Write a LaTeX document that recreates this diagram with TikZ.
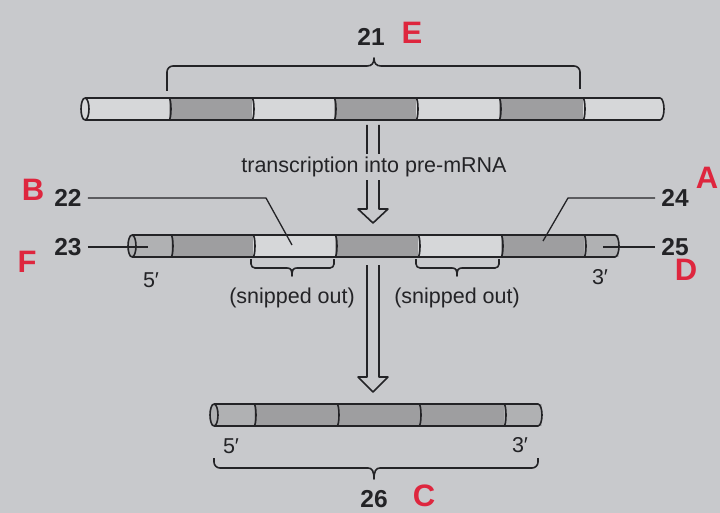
\documentclass[tikz,border=0pt]{standalone}
\usepackage{fontspec}
\setmainfont{Liberation Sans}
\definecolor{paper}{RGB}{200,201,204}
\definecolor{inkc}{RGB}{35,35,38}
\definecolor{intron}{RGB}{214,215,217}
\definecolor{exon}{RGB}{158,158,160}
\definecolor{utr}{RGB}{176,177,179}
\definecolor{penred}{RGB}{222,38,62}
% #1 left x, #2 right x, #3 centre y, #4 base colour
\newcommand\tubebody[4]{%
  \fill[#4] (#1+4,#3-11) -- (#2-4,#3-11)
    arc[start angle=-90,end angle=90,x radius=4,y radius=11] -- (#1+4,#3+11) -- cycle;}
% #1 left x, #2 right x, #3 centre y, #4 cap colour
\newcommand\tubeoutline[4]{%
  \draw[ink] (#1+4,#3-11) -- (#2-4,#3-11)
    arc[start angle=-90,end angle=90,x radius=4,y radius=11] -- (#1+4,#3+11);
  \draw[ink,fill=#4] (#1+4,#3) ellipse[x radius=4,y radius=11];}
% #1 x, #2 centre y
\newcommand\divider[2]{%
  \draw[ink] (#1,#2-11) arc[start angle=-90,end angle=90,x radius=2,y radius=11];}
% #1 x1, #2 x2, #3 centre y, #4 colour
\newcommand\segment[4]{\fill[#4] (#1,#3-11) rectangle (#2,#3+11);}
\begin{document}
\begin{tikzpicture}[x=1pt,y=-1pt,
  ink/.style={draw=inkc,line width=1.6pt,line join=round},
  lbl/.style={text=inkc,inner sep=1pt,font=\fontsize{21.5}{25}\selectfont},
  num/.style={text=inkc,inner sep=1pt,font=\fontsize{24.5}{28}\selectfont\bfseries},
  redletter/.style={text=penred,inner sep=1pt,font=\fontsize{31}{33}\selectfont\bfseries},
  leader/.style={ink,line width=1.3pt,shorten <=5pt},
  bigarrow/.style={ink,fill=paper}]
\fill[paper] (0,0) rectangle (720,513);
\useasboundingbox (0,0) rectangle (720,513);

% ---- gene (DNA) ----
\tubebody{81}{664}{109}{intron}
\segment{169}{252}{109}{exon}
\segment{334}{416}{109}{exon}
\segment{499}{583}{109}{exon}
\tubeoutline{81}{664}{109}{intron}
\foreach \x in {169,252,334,416,499,583} {\divider{\x}{109}}

% brace over the coding region
\draw[ink,rounded corners=6] (167,91) -- (167,66) -- (367,66);
\draw[ink] (367,66) .. controls (372,66) and (374,63) .. (374,58)
           .. controls (374,63) and (376,66) .. (381,66);
\draw[ink,rounded corners=6] (381,66) -- (580,66) -- (580,89);
\node[num] (n21) at (371,37) {21};
\node[redletter] (lE) at (412,33) {E};

% ---- transcription arrow ----
\draw[bigarrow] (367,125) -- (367,209) -- (358,209) -- (373,223)
                -- (388,209) -- (379,209) -- (379,125);
\node[lbl,fill=paper,inner ysep=3pt] (tr) at (374,167) {transcription into pre-mRNA};

% ---- pre-mRNA ----
\tubebody{128}{619}{246}{intron}
\segment{132}{171}{246}{utr}
\segment{171}{253}{246}{exon}
\segment{335}{418}{246}{exon}
\segment{501}{584}{246}{exon}
\segment{584}{619}{246}{utr}
\fill[utr] (615,235) arc[start angle=-90,end angle=90,x radius=4,y radius=11] -- cycle;
\tubeoutline{128}{619}{246}{utr}
\foreach \x in {171,253,335,418,501,584} {\divider{\x}{246}}

\node[lbl] (p5a) at (151,280) {5′};
\node[lbl] (p3a) at (600,277) {3′};

% intron braces
\foreach \a/\b/\m/\nm in {251/334/292/sa,416/499/457/sb} {
  \draw[ink,rounded corners=4] (\a,259) -- (\a,268) -- (\m-5,268);
  \draw[ink] (\m-5,268) .. controls (\m-1,268) and (\m,270) .. (\m,276)
             .. controls (\m,270) and (\m+1,268) .. (\m+5,268);
  \draw[ink,rounded corners=4] (\m+5,268) -- (\b,268) -- (\b,259);
  \node[lbl] (\nm) at (\m,298) {(snipped out)};
}

% reference labels and their leader lines
\node[num] (n22) at (68,198) {22};
\node[num] (n23) at (68,247) {23};
\node[num] (n24) at (675,198) {24};
\node[num] (n25) at (675,247) {25};
\coordinate (k22) at (266,198);
\coordinate (t22) at (292,245);
\coordinate (t23) at (148,247);
\coordinate (k24) at (568,198);
\coordinate (t24) at (543,241);
\coordinate (t25) at (603,247);
\draw[leader] (n22.east) -- (k22) -- (t22);
\draw[leader] (n23.east) -- (t23);
\draw[leader] (n24.west) -- (k24) -- (t24);
\draw[leader] (n25.west) -- (t25);
\node[redletter] (lB) at (33,190) {B};
\node[redletter] (lF) at (27,262) {F};
\node[redletter] (lA) at (707,178) {A};
\node[redletter] (lD) at (686,270) {D};

% ---- splicing arrow ----
\draw[bigarrow] (367,265) -- (367,377) -- (358,377) -- (373,392)
                -- (388,377) -- (379,377) -- (379,265);

% ---- mature mRNA ----
\tubebody{210}{542}{415}{exon}
\segment{214}{254}{415}{utr}
\segment{504}{542}{415}{utr}
\fill[utr] (538,404) arc[start angle=-90,end angle=90,x radius=4,y radius=11] -- cycle;
\tubeoutline{210}{542}{415}{utr}
\foreach \x in {254,337,419,504} {\divider{\x}{415}}

\node[lbl] (p5b) at (231,446) {5′};
\node[lbl] (p3b) at (520,445) {3′};
\draw[ink,rounded corners=6] (214,458) -- (214,468) -- (368,468);
\draw[ink] (368,468) .. controls (372,468) and (374,471) .. (374,479)
           .. controls (374,471) and (376,468) .. (380,468);
\draw[ink,rounded corners=6] (380,468) -- (538,468) -- (538,458);
\node[num] (n26) at (374,499) {26};
\node[redletter] (lC) at (424,496) {C};
\end{tikzpicture}
\end{document}
